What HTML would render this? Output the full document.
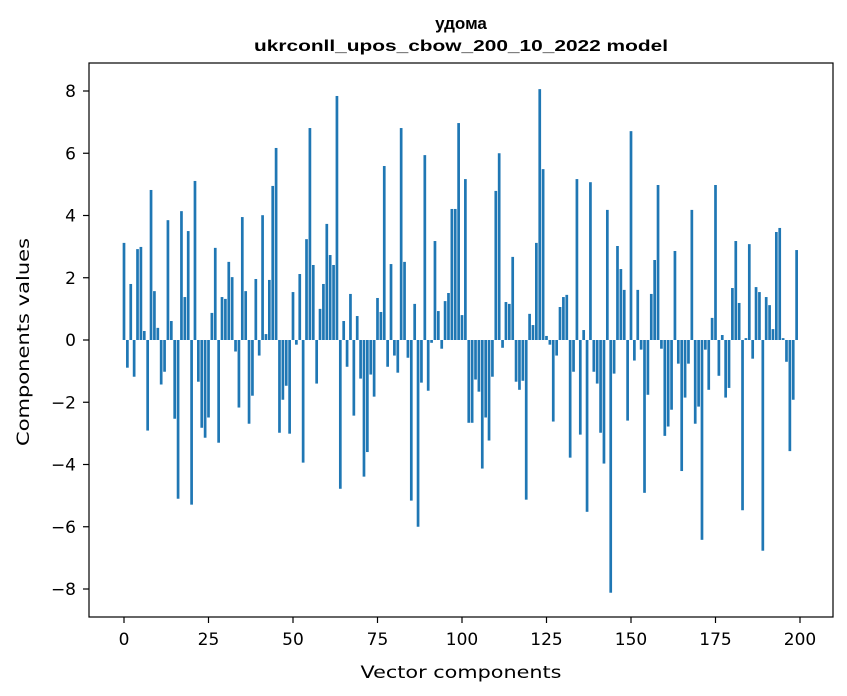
<!DOCTYPE html>
<html><head><meta charset="utf-8"><style>
html,body{margin:0;padding:0;background:#fff;}
svg{display:block;}
text{font-family:"DejaVu Sans","Liberation Sans",sans-serif;fill:#000;}
</style></head>
<body>
<svg id="chart" width="847" height="696" viewBox="0 0 847 696" xmlns="http://www.w3.org/2000/svg">
<rect x="0" y="0" width="847" height="696" fill="#fff"/>
<text x="461" y="29" text-anchor="middle" style="font-family:'Liberation Sans',sans-serif;font-weight:bold;font-size:17px">удома</text>
<text x="461" y="51" text-anchor="middle" textLength="414" lengthAdjust="spacingAndGlyphs" style="font-family:'Liberation Sans',sans-serif;font-weight:bold;font-size:16px">ukrconll_upos_cbow_200_10_2022 model</text>
<g id="bars"></g>
<g id="xticks"></g>
<g id="yticks"></g>
<rect x="89" y="63" width="744" height="554" fill="none" stroke="#000" stroke-width="1.2"/>
<text x="461" y="678" text-anchor="middle" font-size="17" textLength="201" lengthAdjust="spacingAndGlyphs">Vector components</text>
<text x="0" y="0" text-anchor="middle" font-size="17" textLength="208" lengthAdjust="spacingAndGlyphs" transform="translate(29,342) rotate(-90)">Components values</text>
</svg>
<script>
const values = [
3.12,-0.89,1.80,-1.18,2.92,2.99,0.29,-2.91,4.82,1.57,
0.39,-1.43,-1.02,3.85,0.61,-2.53,-5.10,4.14,1.38,3.50,
-5.29,5.11,-1.34,-2.82,-3.14,-2.49,0.87,2.96,-3.30,1.38,
1.32,2.51,2.02,-0.37,-2.17,3.95,1.57,-2.69,-1.79,1.96,
-0.50,4.01,0.19,1.93,4.95,6.17,-2.98,-1.92,-1.47,-3.01,
1.54,-0.15,2.12,-3.94,3.24,6.81,2.41,-1.40,1.00,1.80,
3.73,2.73,2.41,7.84,-4.78,0.61,-0.86,1.48,-2.43,0.77,
-1.24,-4.39,-3.60,-1.11,-1.82,1.35,0.90,5.59,-0.86,2.44,
-0.50,-1.05,6.81,2.51,-0.57,-5.16,1.16,-6.00,-1.37,5.94,
-1.63,-0.09,3.18,0.93,-0.28,1.25,1.51,4.21,4.21,6.97,
0.80,5.17,-2.66,-2.66,-1.27,-1.66,-4.13,-2.49,-3.23,-1.18,
4.79,6.00,-0.25,1.22,1.16,2.67,-1.34,-1.60,-1.31,-5.13,
0.84,0.48,3.12,8.06,5.49,0.13,-0.15,-2.62,-0.50,1.06,
1.38,1.45,-3.78,-1.02,5.17,-3.04,0.32,-5.52,5.07,-1.02,
-1.40,-2.98,-3.97,4.18,-8.12,-1.08,3.02,2.28,1.61,-2.59,
6.71,-0.66,1.61,-0.31,-4.91,-1.76,1.48,2.57,4.98,-0.28,
-3.08,-2.78,-2.24,2.86,-0.76,-4.21,-1.85,-0.76,4.18,-2.69,
-2.14,-6.42,-0.31,-1.60,0.71,4.98,-1.15,0.16,-1.85,-1.54,
1.67,3.18,1.19,-5.47,0.06,3.08,-0.60,1.70,1.54,-6.77,
1.38,1.12,0.35,3.47,3.60,0.06,-0.70,-3.57,-1.92,2.89
];
const xTicks = [0,25,50,75,100,125,150,175,200];
const yTicks = [-8,-6,-4,-2,0,2,4,6,8];
const yTickLabels = ["\u22128","\u22126","\u22124","\u22122","0","2","4","6","8"];

const NS = "http://www.w3.org/2000/svg";
function xs(i){ return 124 + i * (676/200); }
function ys(v){ return 340 - v * (498/16); }

const barsG = document.getElementById('bars');
values.forEach(function(v, i){
  const r = document.createElementNS(NS, 'rect');
  
  
  const w = 0.8 * (676/200);
  const y0 = ys(0), y1 = ys(v);
  r.setAttribute('x', xs(i) - w/2);
  r.setAttribute('y', Math.min(y0, y1));
  r.setAttribute('width', w);
  r.setAttribute('height', Math.abs(y1 - y0));
  r.setAttribute('fill', '#1f77b4');
  barsG.appendChild(r);
});

const xg = document.getElementById('xticks');
xTicks.forEach(function(t){
  const l = document.createElementNS(NS, 'line');
  
  
  l.setAttribute('x1', xs(t)); l.setAttribute('x2', xs(t));
  l.setAttribute('y1', 617); l.setAttribute('y2', 623);
  l.setAttribute('stroke', '#000'); l.setAttribute('stroke-width', '1.2');
  xg.appendChild(l);
  const tx = document.createElementNS(NS, 'text');
  
  
  tx.setAttribute('x', xs(t)); tx.setAttribute('y', 645);
  tx.setAttribute('text-anchor', 'middle'); tx.setAttribute('font-size', '17');
  tx.textContent = String(t);
  xg.appendChild(tx);
});

const yg = document.getElementById('yticks');
yTicks.forEach(function(t, k){
  const l = document.createElementNS(NS, 'line');
  
  
  l.setAttribute('x1', 83); l.setAttribute('x2', 89);
  l.setAttribute('y1', ys(t)); l.setAttribute('y2', ys(t));
  l.setAttribute('stroke', '#000'); l.setAttribute('stroke-width', '1.2');
  yg.appendChild(l);
  const tx = document.createElementNS(NS, 'text');
  
  
  tx.setAttribute('x', 76); tx.setAttribute('y', ys(t) + 6);
  tx.setAttribute('text-anchor', 'end'); tx.setAttribute('font-size', '17');
  tx.textContent = yTickLabels[k];
  yg.appendChild(tx);
});
</script>
</body></html>
